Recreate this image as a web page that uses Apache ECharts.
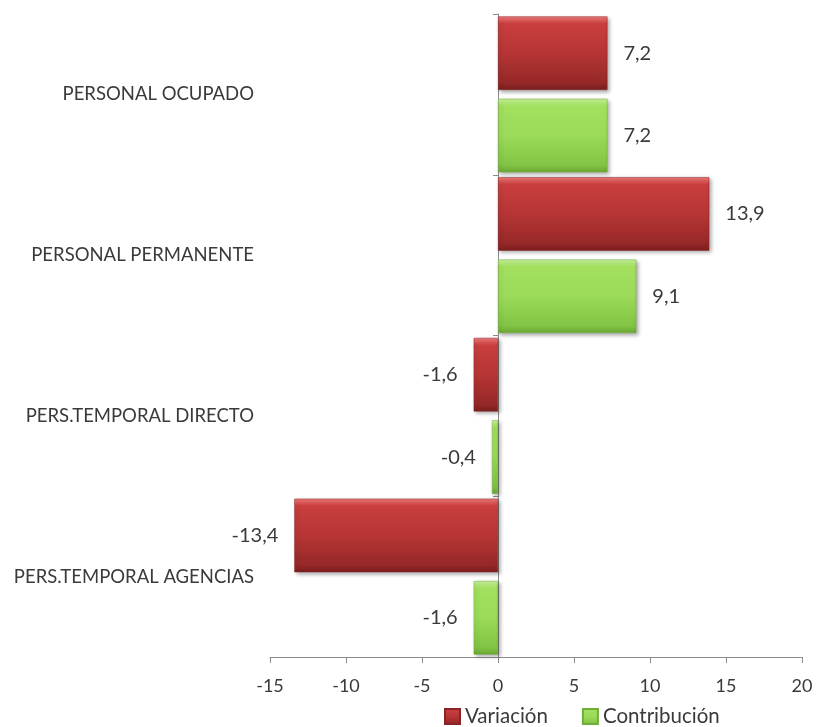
<!DOCTYPE html>
<html><head><meta charset="utf-8">
<script src="https://cdn.jsdelivr.net/npm/echarts@6/dist/echarts.min.js"></script>
<style>html,body{margin:0;padding:0;background:#fff}#c{width:817px;height:727px}</style>
</head><body><div id="c"></div>
<script>
const categories = ['PERSONAL OCUPADO','PERSONAL PERMANENTE','PERS.TEMPORAL DIRECTO','PERS.TEMPORAL AGENCIAS'];
const variacion = [7.2, 13.9, -1.6, -13.4];
const contribucion = [7.2, 9.1, -0.4, -1.6];
const xTicks = {min: -15, max: 20, interval: 5};

const FONT = 'Lato';
const TXT = '#3a3a3a';
const fmt = v => String(v).replace('.', ',');
function grad(stops){
  return new echarts.graphic.LinearGradient(0,0,0,1, stops.map(s=>({offset:s[0],color:s[1]})));
}
const redG = grad([[0,'#f27a7a'],[0.1,'#c93e3e'],[0.5,'#b73535'],[0.9,'#962828'],[1,'#7a1e1e']]);
const greenG = grad([[0,'#c8f49a'],[0.1,'#a2e05e'],[0.5,'#9bdb59'],[0.9,'#82c444'],[1,'#6aa834']]);
function mk(vals){
  return vals.map(v=>({value:v,label:{position: v<0?'left':'right'}}));
}
const chart = echarts.init(document.getElementById('c'));
chart.setOption({
  animation:false,
  textStyle:{fontFamily:FONT},
  grid:{left:270,right:15,top:14,bottom:70,containLabel:false},
  legend:{
    left:439, top:701, itemWidth:15, itemHeight:15, itemGap:34,
    textStyle:{fontFamily:FONT,fontSize:20.5,color:TXT},
    data:[{name:'Variación',icon:'rect'},{name:'Contribución',icon:'rect'}]
  },
  xAxis:{
    type:'value', min:xTicks.min, max:xTicks.max, interval:xTicks.interval,
    axisLine:{show:true,lineStyle:{color:'#8c8c8c',width:1}},
    axisTick:{show:true,length:6,lineStyle:{color:'#8c8c8c'}},
    splitLine:{show:false},
    axisLabel:{fontFamily:FONT,fontSize:18,color:TXT,margin:20,formatter:v=>String(v)}
  },
  yAxis:[{
    type:'category', data:categories, inverse:true,
    axisLine:{show:false,onZero:false}, axisTick:{show:false},
    axisLabel:{fontFamily:FONT,fontSize:18.5,color:TXT,margin:16}
  },{
    type:'category', data:categories, inverse:true, position:'left',
    axisLine:{show:true,onZero:true,lineStyle:{color:'#8c8c8c'}},
    axisTick:{show:true,length:5,lineStyle:{color:'#8c8c8c'}},
    axisLabel:{show:false}
  }],
  series:[{
    name:'Variación', type:'bar', yAxisIndex:0, data:mk(variacion),
    barCategoryGap:'3%', barGap:'12%',
    itemStyle:{color:redG,borderColor:'#8a2424',borderWidth:0.5,shadowBlur:4,shadowColor:'rgba(0,0,0,0.35)',shadowOffsetX:2,shadowOffsetY:2},
    label:{show:true,distance:16,fontFamily:FONT,fontSize:20,color:TXT,formatter:p=>fmt(p.value)}
  },{
    name:'Contribución', type:'bar', yAxisIndex:0, data:mk(contribucion),
    barCategoryGap:'3%', barGap:'12%',
    itemStyle:{color:greenG,borderColor:'#6fae38',borderWidth:0.5,shadowBlur:4,shadowColor:'rgba(0,0,0,0.35)',shadowOffsetX:2,shadowOffsetY:2},
    label:{show:true,distance:16,fontFamily:FONT,fontSize:20,color:TXT,formatter:p=>fmt(p.value)}
  }]
});
</script></body></html>
